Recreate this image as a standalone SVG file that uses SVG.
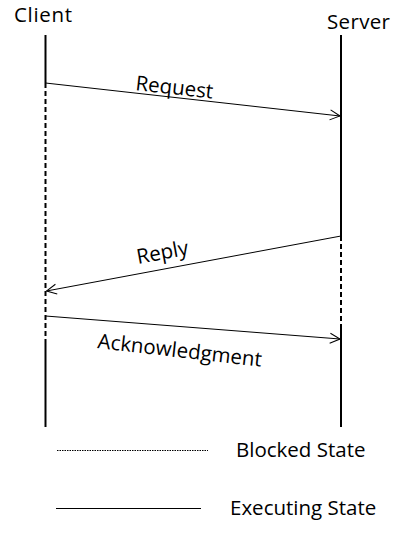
<svg xmlns="http://www.w3.org/2000/svg" width="401" height="534" viewBox="0 0 401 534">
<defs>
<style>
.t{font-family:"Open Sans","Liberation Sans",sans-serif;font-size:20.5px;fill:#000}
.life{stroke:#000;stroke-width:2;fill:none}
.dash{stroke:#000;stroke-width:2;stroke-dasharray:5 3;fill:none}
.msg{stroke:#000;stroke-width:1;fill:none;marker-end:url(#arr)}
</style>
<marker id="arr" markerWidth="12" markerHeight="12" refX="11" refY="6" orient="auto" markerUnits="userSpaceOnUse">
<path d="M1,1 L11,6 L1,11" fill="none" stroke="#000" stroke-width="1"/>
</marker>
</defs>
<rect width="401" height="534" fill="#fff"/>
<g id="client">
<text class="t" x="14" y="22" textLength="58">Client</text>
<line class="life" x1="45.5" y1="35" x2="45.5" y2="83"/>
<line class="dash" x1="45.5" y1="83" x2="45.5" y2="343"/>
<line class="life" x1="45.5" y1="343" x2="45.5" y2="427"/>
</g>
<g id="server">
<text class="t" x="327" y="29" textLength="63">Server</text>
<line class="life" x1="341" y1="35" x2="341" y2="236"/>
<line class="dash" x1="341" y1="236" x2="341" y2="327"/>
<line class="life" x1="341" y1="327" x2="341" y2="427"/>
</g>
<g id="connectors">
<line class="msg" x1="45.5" y1="83" x2="340" y2="116"/>
<line class="msg" x1="341" y1="236" x2="46.5" y2="291"/>
<line class="msg" x1="45.5" y1="316" x2="340" y2="339"/>
<text class="t" transform="translate(135,90) rotate(6.4)">Request</text>
<text class="t" transform="translate(138,264) rotate(-10.5)">Reply</text>
<text class="t" transform="translate(97,348) rotate(6.5)">Acknowledgment</text>
</g>
<g id="legend">
<line x1="57" y1="450.5" x2="208" y2="450.5" stroke="#000" stroke-width="1" stroke-dasharray="1.5 1"/>
<text class="t" x="236" y="457">Blocked State</text>
<line x1="56" y1="508.5" x2="201" y2="508.5" stroke="#000" stroke-width="1"/>
<text class="t" x="230" y="515">Executing State</text>
</g>
</svg>
